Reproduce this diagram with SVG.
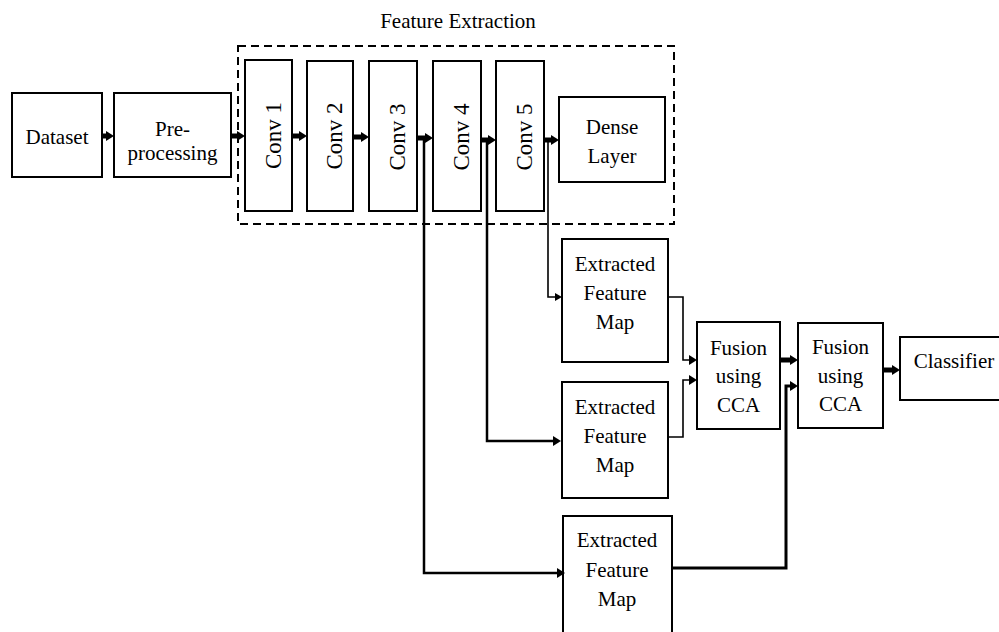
<svg xmlns="http://www.w3.org/2000/svg" width="999" height="632" viewBox="0 0 999 632">
<style>
.box{fill:#fff;stroke:#000;stroke-width:2}
.t{font-family:"Liberation Serif","Times New Roman",serif;font-size:21px;fill:#000;text-anchor:middle}
.v{font-family:"Liberation Serif","Times New Roman",serif;font-size:23px;fill:#000;text-anchor:middle}
.thick{fill:none;stroke:#000;stroke-width:5}
.mid{fill:none;stroke:#000;stroke-width:2.5}
.thin{fill:none;stroke:#000;stroke-width:1.6}
</style>
<defs>
<marker id="ah" viewBox="0 -5 8 10" refX="0" refY="0" markerWidth="8" markerHeight="10" markerUnits="userSpaceOnUse" orient="auto"><path d="M0,-5 L8,0 L0,5 z" fill="#000"/></marker>
<marker id="ahs" viewBox="0 -4 7 8" refX="0" refY="0" markerWidth="7" markerHeight="8" markerUnits="userSpaceOnUse" orient="auto"><path d="M0,-4 L7,0 L0,4 z" fill="#000"/></marker>
</defs>
<rect fill="#fff" x="0" y="0" width="999" height="632"/>
<g id="feature-extraction">
<rect x="238" y="46" width="436" height="178" fill="none" stroke="#000" stroke-width="2" stroke-dasharray="8,5"/>
<text class="t" x="458" y="28">Feature Extraction</text>
</g>
<g id="dataset"><rect class="box" x="12" y="93" width="90" height="84"/><text class="t" x="57" y="144">Dataset</text></g>
<g id="preprocessing"><rect class="box" x="114" y="93" width="117" height="84"/><text class="t" x="172.5" y="136">Pre-</text><text class="t" x="172.5" y="160">processing</text></g>
<g id="conv1"><rect class="box" x="245" y="60" width="47" height="151"/><text class="v" transform="translate(281,135.5) rotate(-90)">Conv 1</text></g>
<g id="conv2"><rect class="box" x="307" y="61" width="46" height="150"/><text class="v" transform="translate(342,136) rotate(-90)">Conv 2</text></g>
<g id="conv3"><rect class="box" x="369" y="61" width="48" height="150"/><text class="v" transform="translate(405,137) rotate(-90)">Conv 3</text></g>
<g id="conv4"><rect class="box" x="433" y="61" width="48" height="150"/><text class="v" transform="translate(469,137) rotate(-90)">Conv 4</text></g>
<g id="conv5"><rect class="box" x="496" y="61" width="48" height="150"/><text class="v" transform="translate(532,137) rotate(-90)">Conv 5</text></g>
<g id="dense"><rect class="box" x="559" y="97" width="106" height="85"/><text class="t" x="612" y="134">Dense</text><text class="t" x="612" y="163">Layer</text></g>
<g id="efm1"><rect class="box" x="562" y="239" width="106" height="123"/><text class="t" x="615" y="271">Extracted</text><text class="t" x="615" y="300">Feature</text><text class="t" x="615" y="329">Map</text></g>
<g id="efm2"><rect class="box" x="562" y="382" width="106" height="116"/><text class="t" x="615" y="414">Extracted</text><text class="t" x="615" y="443">Feature</text><text class="t" x="615" y="472">Map</text></g>
<g id="efm3"><rect class="box" x="563" y="516" width="109" height="130"/><text class="t" x="617" y="547">Extracted</text><text class="t" x="617" y="577">Feature</text><text class="t" x="617" y="606">Map</text></g>
<g id="fusion1"><rect class="box" x="697" y="322" width="83" height="107"/><text class="t" x="738.5" y="355">Fusion</text><text class="t" x="738.5" y="383">using</text><text class="t" x="738.5" y="412">CCA</text></g>
<g id="fusion2"><rect class="box" x="798" y="323" width="85" height="105"/><text class="t" x="840.5" y="354">Fusion</text><text class="t" x="840.5" y="383">using</text><text class="t" x="840.5" y="411">CCA</text></g>
<g id="classifier"><rect class="box" x="900" y="337" width="104" height="63"/><text class="t" x="954" y="368">Classifier</text></g>
<g id="connectors">
<path class="mid" d="M424,138 V573 H557" marker-end="url(#ah)"/>
<path class="mid" d="M487,140 V441 H553" marker-end="url(#ah)"/>
<path class="thin" d="M548,140 V297 H555" marker-end="url(#ahs)"/>
<path class="thick" d="M102,136 H106" marker-end="url(#ah)"/>
<path class="thick" d="M231,136 H237" marker-end="url(#ah)"/>
<path class="thick" d="M292,136 H299" marker-end="url(#ah)"/>
<path class="thick" d="M353,137 H361" marker-end="url(#ah)"/>
<path class="thick" d="M417,138 H425" marker-end="url(#ah)"/>
<path class="thick" d="M481,140 H488" marker-end="url(#ah)"/>
<path class="thick" d="M544,140 H551" marker-end="url(#ah)"/>
<path class="thin" d="M668,297 H683 V360 H689" marker-end="url(#ah)"/>
<path class="thin" d="M668,437 H683 V380 H689" marker-end="url(#ah)"/>
<path class="thick" d="M780,360 H790" marker-end="url(#ah)"/>
<path fill="none" stroke="#000" stroke-width="3" d="M672,568 H786 V386 H790" marker-end="url(#ah)"/>
<path class="thick" d="M883,370 H892" marker-end="url(#ah)"/>
</g>
</svg>
